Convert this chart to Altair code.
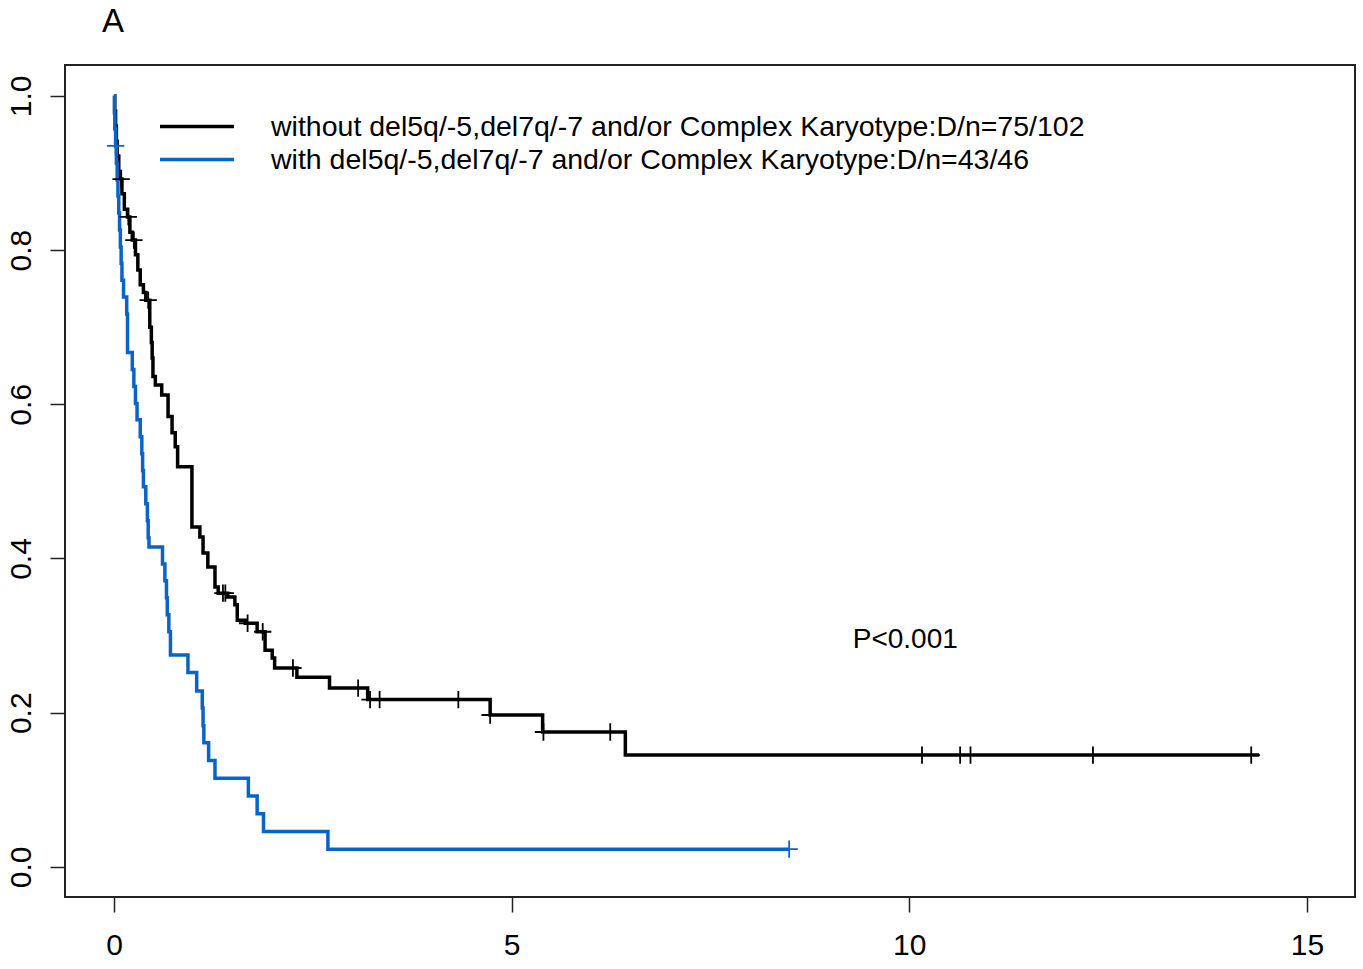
import altair as alt
import pandas as pd

LBL_WITHOUT = "\u2002without del5q/-5,del7q/-7 and/or Complex Karyotype:D/n=75/102"
LBL_WITH = "with del5q/-5,del7q/-7 and/or Complex Karyotype:D/n=43/46"

# Black curve (without), step-after points: time (years), survival
black_t = [0.00, 0.01, 0.02, 0.03, 0.04, 0.06, 0.08, 0.10, 0.13, 0.17, 0.20, 0.23, 0.27, 0.30,
           0.33, 0.37, 0.40, 0.45, 0.47, 0.48, 0.49, 0.52, 0.60, 0.68, 0.73, 0.77, 0.80, 0.98,
           1.08, 1.12, 1.18, 1.27, 1.31, 1.43, 1.52, 1.55, 1.65, 1.80, 1.90, 1.99, 2.02, 2.30,
           2.71, 3.19, 4.73, 5.39, 6.43, 14.40]
black_s = [1.000, 0.980, 0.961, 0.941, 0.922, 0.902, 0.892, 0.873, 0.853, 0.843, 0.823, 0.813,
           0.794, 0.774, 0.755, 0.745, 0.735, 0.700, 0.680, 0.660, 0.636, 0.625, 0.612, 0.584,
           0.563, 0.545, 0.519, 0.441, 0.428, 0.407, 0.389, 0.363, 0.355, 0.350, 0.340, 0.320,
           0.316, 0.305, 0.281, 0.271, 0.258, 0.246, 0.232, 0.217, 0.197, 0.175, 0.145, 0.145]
black_cens_t = [0.09, 0.18, 0.25, 0.43, 1.37, 1.40, 1.68, 1.87, 2.25, 3.07, 3.22, 3.34, 4.33,
                4.73, 5.40, 6.24, 10.16, 10.64, 10.77, 12.31, 14.30]
black_cens_s = [0.892, 0.843, 0.813, 0.735, 0.355, 0.355, 0.316, 0.305, 0.258, 0.232, 0.217,
                0.217, 0.217, 0.197, 0.175, 0.175, 0.145, 0.145, 0.145, 0.145, 0.145]

# Blue curve (with)
blue_t = [0.00, 0.005, 0.01, 0.02, 0.03, 0.04, 0.05, 0.06, 0.07, 0.08, 0.09, 0.10, 0.12, 0.16,
          0.17, 0.23, 0.25, 0.27, 0.29, 0.33, 0.35, 0.36, 0.37, 0.40, 0.42, 0.43, 0.44, 0.61,
          0.64, 0.66, 0.67, 0.69, 0.71, 0.93, 1.04, 1.11, 1.12, 1.13, 1.19, 1.27, 1.69, 1.80,
          1.88, 2.69, 8.49]
blue_s = [1.000, 0.978, 0.957, 0.935, 0.913, 0.891, 0.870, 0.848, 0.826, 0.804, 0.783, 0.761,
          0.739, 0.717, 0.667, 0.645, 0.623, 0.601, 0.580, 0.558, 0.536, 0.514, 0.493, 0.471,
          0.449, 0.427, 0.415, 0.393, 0.371, 0.349, 0.327, 0.305, 0.275, 0.252, 0.228, 0.206,
          0.183, 0.161, 0.138, 0.115, 0.092, 0.069, 0.046, 0.023, 0.023]
blue_cens_t = [0.02, 8.49]
blue_cens_s = [0.935, 0.023]

x_ticks = [0, 5, 10, 15]
y_ticks = [0.0, 0.2, 0.4, 0.6, 0.8, 1.0]

FONT = "Liberation Sans Narrow, Arial Narrow, Liberation Sans, Arial"
BLUE = "#0a64c8"

curves = pd.concat([
    pd.DataFrame({"t": black_t, "s": black_s, "group": LBL_WITHOUT, "order": range(len(black_t))}),
    pd.DataFrame({"t": blue_t, "s": blue_s, "group": LBL_WITH, "order": range(len(blue_t))}),
])
cens = pd.concat([
    pd.DataFrame({"t": black_cens_t, "s": black_cens_s, "group": LBL_WITHOUT}),
    pd.DataFrame({"t": blue_cens_t, "s": blue_cens_s, "group": LBL_WITH}),
])
ptext = pd.DataFrame({"t": [9.95], "s": [0.294], "label": ["P<0.001"]})

xscale = alt.Scale(domain=[-0.616, 15.605], nice=False, zero=False)
yscale = alt.Scale(domain=[-0.039, 1.040], nice=False, zero=False)
cscale = alt.Scale(domain=[LBL_WITHOUT, LBL_WITH], range=["#000000", BLUE])

xenc = alt.X("t:Q", scale=xscale, axis=alt.Axis(values=x_ticks, format="d", title=None, grid=False,
             domain=False, tickSize=15, tickWidth=1.5, tickColor="#222", labelFontSize=30,
             labelFont=FONT, labelPadding=18, labelColor="#000"))
yenc = alt.Y("s:Q", scale=yscale, axis=alt.Axis(values=y_ticks, format=".1f", title=None, grid=False,
             domain=False, tickSize=15, tickWidth=1.5, tickColor="#222", labelFontSize=30,
             labelFont=FONT, labelAngle=270, labelAlign="center", labelBaseline="bottom",
             labelPadding=14, labelColor="#000"))

lines = alt.Chart(curves).mark_line(interpolate="step-after", strokeWidth=3.5).encode(
    x=xenc, y=yenc,
    color=alt.Color("group:N", scale=cscale, sort=[LBL_WITHOUT, LBL_WITH],
                    legend=alt.Legend(title=None, orient="none", legendX=93, legendY=45,
                                      symbolType="stroke", symbolSize=5476, symbolStrokeWidth=3.5,
                                      clipHeight=33, rowPadding=0,
                                      labelFontSize=28.5, labelFont=FONT, labelLimit=2000,
                                      labelOffset=35, labelColor="#000")),
    detail="group:N",
    order="order:Q",
)

marks = alt.Chart(cens).mark_point(shape="M-1,0L1,0M0,-1L0,1", filled=False, strokeWidth=1.8,
                                   size=300, opacity=1).encode(
    x="t:Q", y="s:Q",
    color=alt.Color("group:N", scale=cscale, legend=None),
)

ptxt = alt.Chart(ptext).mark_text(fontSize=28, font=FONT, color="#000").encode(
    x="t:Q", y="s:Q", text="label:N")

chart = alt.layer(lines, marks, ptxt).properties(
    width=1290, height=832,
    title=alt.TitleParams("A", anchor="start", dx=96, fontSize=33, fontWeight="normal",
                          font=FONT, offset=26, color="#000"),
    autosize=alt.AutoSizeParams(type="none"),
    padding={"left": 65, "top": 65, "right": 8, "bottom": 72},
).configure_view(stroke="#222222", strokeWidth=2)

chart.save("out.html", embed_options={"renderer": "svg", "actions": False})
